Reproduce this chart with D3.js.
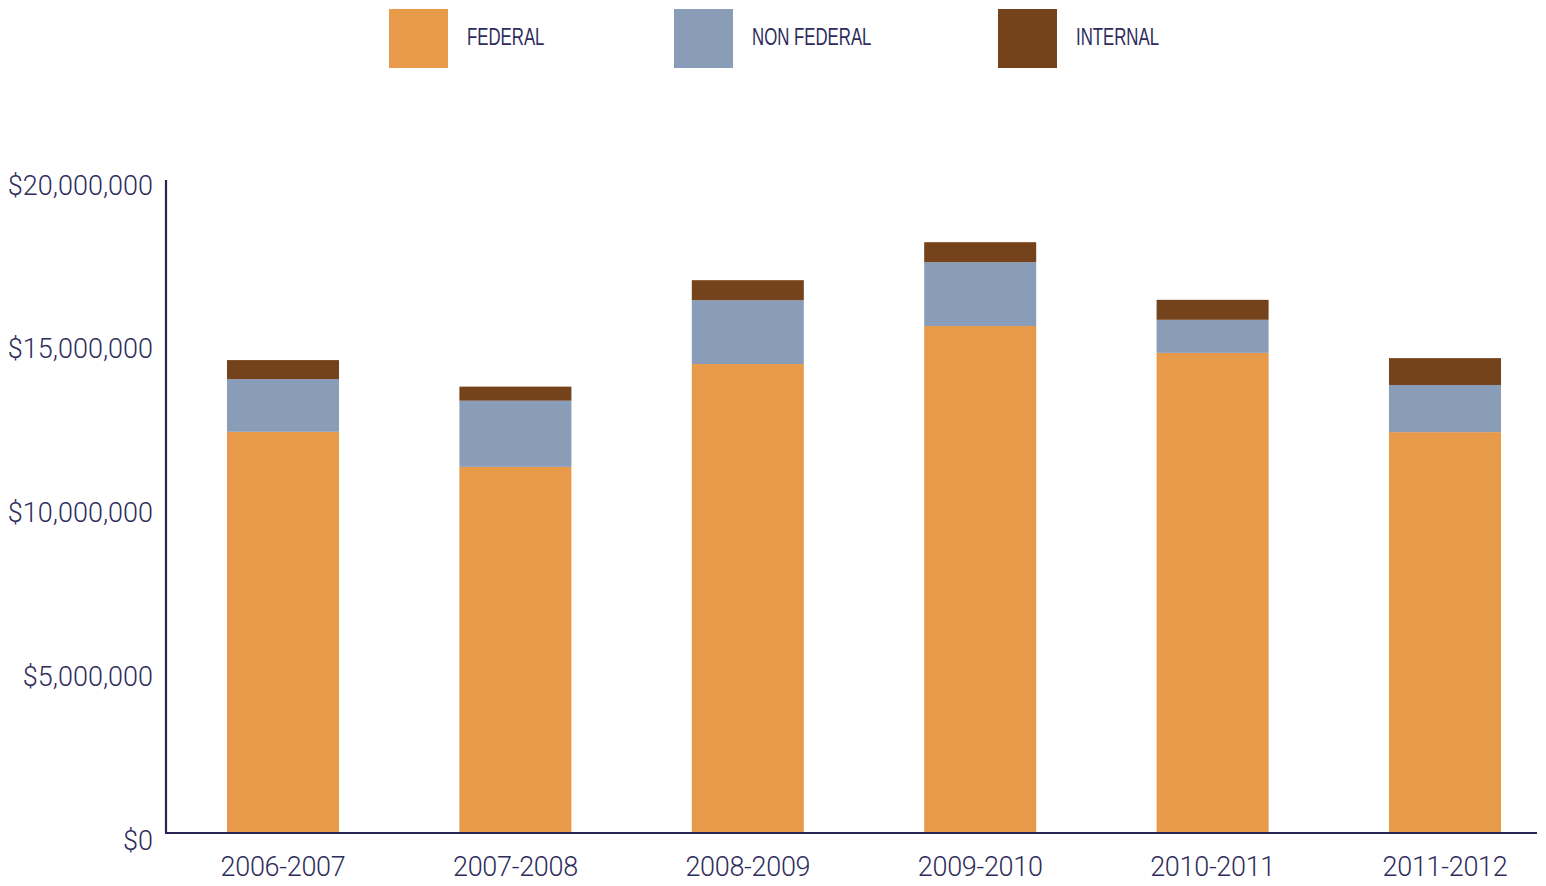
<!DOCTYPE html>
<html>
<head>
<meta charset="utf-8">
<script src="https://cdn.jsdelivr.net/npm/d3@7"></script>
<style>
  html, body { margin: 0; padding: 0; background: #ffffff; }
  svg { display: block; }
</style>
</head>
<body>
<svg id="chart" width="1546" height="886"></svg>
<script>
const categories = ["2006-2007", "2007-2008", "2008-2009", "2009-2010", "2010-2011", "2011-2012"];
const seriesNames = ["FEDERAL", "NON FEDERAL", "INTERNAL"];
const federal    = [12250000, 11180000, 14320000, 15480000, 14660000, 12240000];
const nonFederal = [1610000, 2020000, 1950000, 1950000, 1010000, 1440000];
const internal   = [580000, 430000, 610000, 610000, 610000, 820000];
const yTicks = [0, 5000000, 10000000, 15000000, 20000000];
const colors = ["#E79A4A", "#8A9DB8", "#74431C"];

const textColor = "#2E2C5C";
const axisColor = "#262556";
const labelFont = "Roboto, 'Liberation Sans', Arial, sans-serif";

const svg = d3.select("#chart");

const rows = categories.map((c, i) => ({
  cat: c,
  "FEDERAL": federal[i],
  "NON FEDERAL": nonFederal[i],
  "INTERNAL": internal[i]
}));
const stacked = d3.stack().keys(seriesNames)(rows);

const x = d3.scaleBand()
  .domain(categories)
  .range([166, 1562])
  .paddingInner(0.518)
  .paddingOuter(0.2625);

const y = d3.scaleLinear()
  .domain([0, 20000000])
  .range([833, 178]);

const color = d3.scaleOrdinal().domain(seriesNames).range(colors);

// bars
svg.append("g").selectAll("g")
  .data(stacked)
  .join("g")
  .attr("fill", d => color(d.key))
  .selectAll("rect")
  .data(d => d)
  .join("rect")
  .attr("x", d => x(d.data.cat))
  .attr("width", x.bandwidth())
  .attr("y", d => y(d[1]))
  .attr("height", d => y(d[0]) - y(d[1]));

// y axis
const fmt = v => "$" + d3.format(",")(v);
const yAxis = svg.append("g")
  .attr("transform", "translate(166,0)")
  .call(d3.axisLeft(y).tickValues(yTicks).tickFormat(fmt).tickSize(0).tickPadding(13));
yAxis.select(".domain").remove();
yAxis.selectAll("text")
  .attr("fill", textColor)
  .attr("dy", "0.6em")
  .style("font-family", labelFont)
  .style("font-weight", "300")
  .style("font-size", "27px")
  .style("letter-spacing", "0px");
svg.append("line")
  .attr("x1", 166).attr("x2", 166)
  .attr("y1", 180).attr("y2", 833)
  .attr("stroke", axisColor).attr("stroke-width", 2.2);

// x axis
const xAxis = svg.append("g")
  .attr("transform", "translate(0,833)")
  .call(d3.axisBottom(x).tickSize(0).tickPadding(24));
xAxis.select(".domain").remove();
xAxis.selectAll("text")
  .attr("fill", textColor)
  .attr("dy", "0.71em")
  .style("font-family", labelFont)
  .style("font-weight", "300")
  .style("font-size", "27px")
  .style("letter-spacing", "-0.3px");
svg.append("line")
  .attr("x1", 165).attr("x2", 1537)
  .attr("y1", 833).attr("y2", 833)
  .attr("stroke", axisColor).attr("stroke-width", 2.2);

// legend
const legendX = [389, 674, 998];
const legend = svg.append("g").selectAll("g")
  .data(seriesNames)
  .join("g")
  .attr("transform", (d, i) => `translate(${legendX[i]},9)`);
legend.append("rect")
  .attr("width", 59).attr("height", 59)
  .attr("fill", d => color(d));
legend.append("text")
  .attr("x", 78).attr("y", 28)
  .attr("dy", "0.36em")
  .attr("fill", textColor)
  .style("font-family", "'Liberation Sans', Arial, sans-serif")
  .style("font-size", "23px")
  .text(d => d)
  .each(function () {
    const len = this.getComputedTextLength();
    d3.select(this)
      .attr("textLength", len * 0.73)
      .attr("lengthAdjust", "spacingAndGlyphs");
  });
</script>
</body>
</html>
